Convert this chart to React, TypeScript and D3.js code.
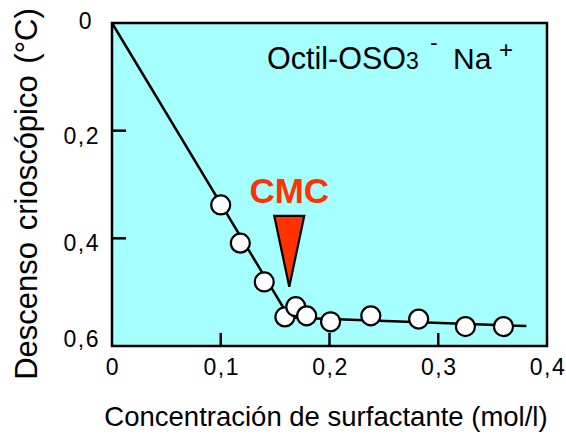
import React from "react";
import * as d3 from "d3";

// Concentration (mol/l) of each measured sample and its freezing-point depression (°C)
const concentration = [0.1, 0.118, 0.14, 0.159, 0.169, 0.179, 0.201, 0.238, 0.282, 0.325, 0.36];
const depression = [0.338, 0.409, 0.481, 0.546, 0.527, 0.544, 0.555, 0.544, 0.55, 0.564, 0.564];

// Two straight fits meeting at the break (CMC)
const fitX = [0, 0.163, 0.381];
const fitY = [0, 0.547, 0.563];

// CMC marker position (mol/l) and value shown by the arrow tip
const cmcX = 0.163;
const cmcY = 0.49;

const xTicks = [0, 0.1, 0.2, 0.3, 0.4];
const yTicks = [0, 0.2, 0.4, 0.6];
const fmt = (v: number) => (v === 0 ? "0" : d3.format(".1f")(v).replace(".", ","));

const W = 566;
const H = 434;
const plot = { left: 112, top: 23, right: 547, bottom: 346 };
const FONT = "'Liberation Sans', Arial, Helvetica, sans-serif";
const BG = "#a6ffff";
const RED = "#ff3300";

export default function App() {
  const x = d3.scaleLinear().domain([0, 0.4]).range([plot.left, plot.right]);
  const y = d3.scaleLinear().domain([0, 0.6]).range([plot.top, plot.bottom]);

  const fitLine = d3
    .line<number>()
    .x((_, i) => x(fitX[i]))
    .y((_, i) => y(fitY[i]))(fitX) as string;

  const tipX = x(cmcX);
  const tipY = y(cmcY);
  const tri = `M${tipX - 15},${tipY - 71} L${tipX + 15},${tipY - 71} L${tipX},${tipY} Z`;

  const yLabelDy = (v: number) => (v === 0 ? 0 : v === 0.6 ? -5 : 7);

  return (
    <svg
      width={W}
      height={H}
      style={{ position: "absolute", left: 0, top: 0, background: "#fff" }}
      fontFamily={FONT}
    >
      <rect
        x={plot.left}
        y={plot.top}
        width={plot.right - plot.left}
        height={plot.bottom - plot.top}
        fill={BG}
      />

      {/* inward ticks */}
      {yTicks
        .filter((v) => v > 0 && v < 0.6)
        .map((v) => (
          <line key={"yt" + v} x1={plot.left} x2={plot.left + 14} y1={y(v)} y2={y(v)} stroke="#000" strokeWidth={2.5} />
        ))}
      {xTicks
        .filter((v) => v > 0 && v < 0.4)
        .map((v) => (
          <line key={"xt" + v} x1={x(v)} x2={x(v)} y1={plot.bottom} y2={plot.bottom - 13} stroke="#000" strokeWidth={2.5} />
        ))}

      <rect
        x={plot.left}
        y={plot.top}
        width={plot.right - plot.left}
        height={plot.bottom - plot.top}
        fill="none"
        stroke="#000"
        strokeWidth={2.5}
      />

      {/* tick labels */}
      {yTicks.map((v) => (
        <text
          key={"yl" + v}
          x={v === 0 ? 93 : 100}
          y={y(v) + yLabelDy(v)}
          dominantBaseline="middle"
          textAnchor="end"
          fontSize={23}
          letterSpacing={1.5}
          fill="#000"
        >
          {fmt(v)}
        </text>
      ))}
      {xTicks.map((v) => (
        <text
          key={"xl" + v}
          x={x(v) + 1}
          y={375}
          textAnchor="middle"
          fontSize={23}
          letterSpacing={1.5}
          fill="#000"
        >
          {fmt(v)}
        </text>
      ))}

      {/* fitted lines */}
      <path d={fitLine} fill="none" stroke="#000" strokeWidth={2.5} />

      {/* measurements */}
      {concentration.map((c, i) => (
        <circle key={"p" + i} cx={x(c)} cy={y(depression[i])} r={9.5} fill="#fff" stroke="#000" strokeWidth={2.2} />
      ))}

      {/* CMC marker */}
      <path d={tri} fill={RED} stroke="#000" strokeWidth={2.2} strokeLinejoin="miter" />
      <text x={tipX} y={203} textAnchor="middle" fontSize={35} fontWeight="bold" fill={RED}>
        CMC
      </text>

      {/* species label */}
      <text x={267} y={69} fontSize={30.5} fill="#000">
        Octil-OSO
        <tspan fontSize={23}>3</tspan>
      </text>
      <text x={434} y={50} textAnchor="middle" fontSize={22} fill="#000">
        -
      </text>
      <text x={453} y={69} fontSize={30} fill="#000">
        Na
      </text>
      <text x={506} y={58} textAnchor="middle" fontSize={24} fill="#000">
        +
      </text>

      {/* axis titles */}
      <text x={326} y={426} textAnchor="middle" fontSize={27.5} fill="#000">
        Concentración de surfactante (mol/l)
      </text>
      <text
        transform={`translate(37,194) rotate(-90)`}
        textAnchor="middle"
        fontSize={31}
        wordSpacing={3}
        fill="#000"
      >
        Descenso crioscópico (°C)
      </text>
    </svg>
  );
}
